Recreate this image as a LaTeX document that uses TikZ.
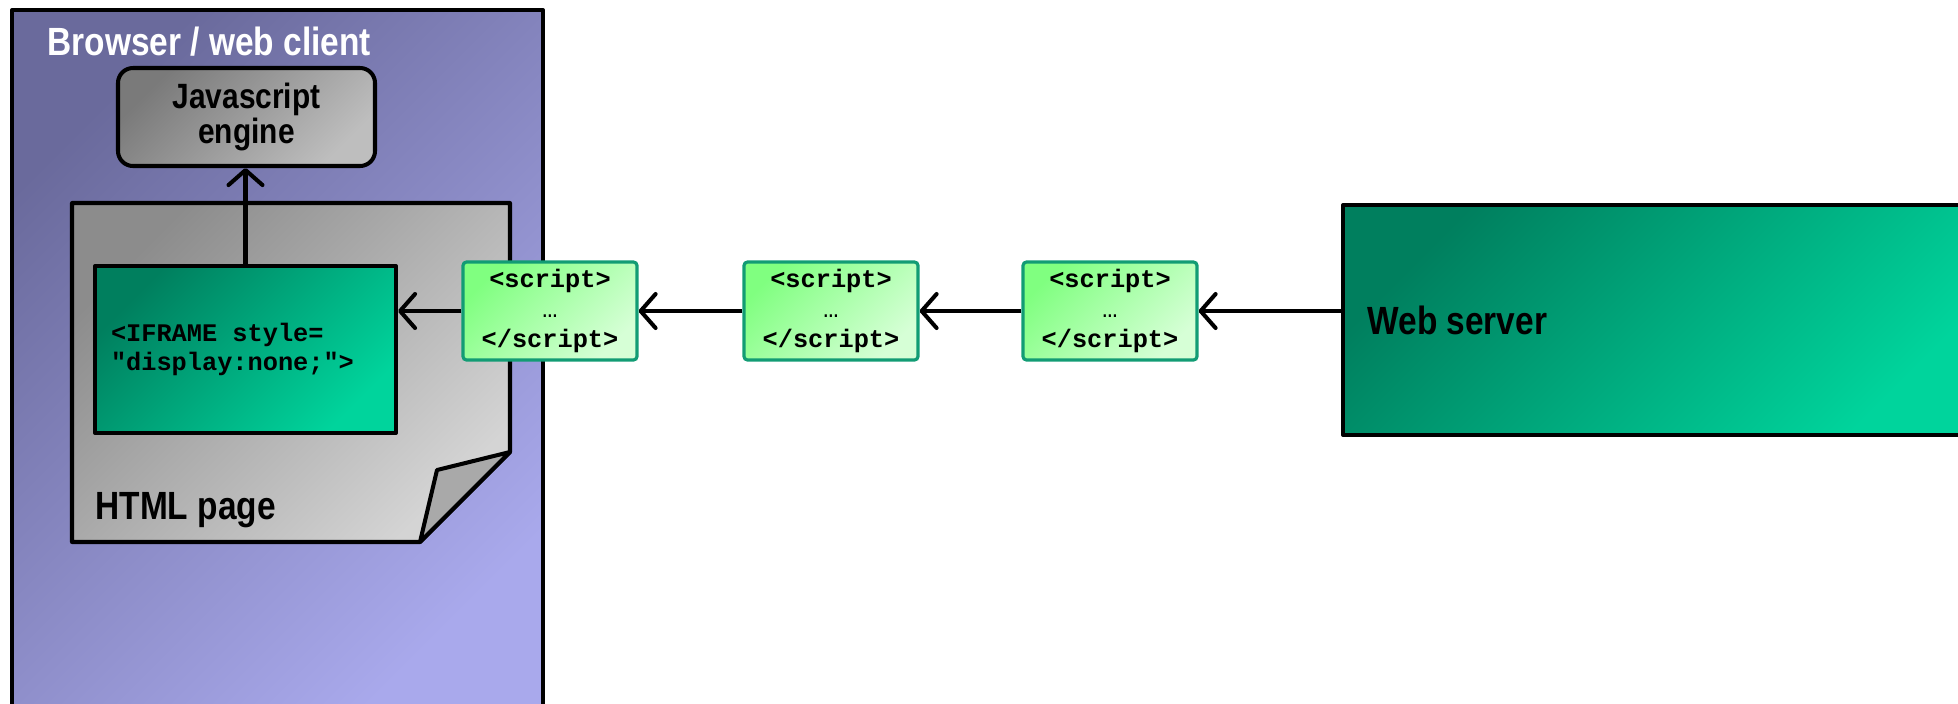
\documentclass[tikz,border=0pt]{standalone}
\usepackage{fontspec}
\setmainfont{Liberation Sans}
\setmonofont{Liberation Mono}
\newfontfamily\condsans[FakeStretch=0.85]{Liberation Sans}
\usetikzlibrary{arrows.meta,positioning}

\begin{document}
\begin{tikzpicture}[
    outline/.style={draw=black, line width=1.15pt, line join=round},
    shade45/.style 2 args={top color=#1, bottom color=#2, shading angle=45},
    heading/.style={font=\condsans\bfseries\fontsize{11.2}{13}\selectfont},
    codetext/.style={font=\ttfamily\bfseries\fontsize{7.2}{8}\selectfont},
    scriptbox/.style={draw=ScriptEdge, line width=0.9pt, rounded corners=1pt,
        shade45={ScriptDark}{ScriptLight}, minimum width=1.74cm,
        minimum height=0.98cm, inner sep=0pt, align=center,
        font=\ttfamily\bfseries\fontsize{7.2}{8.5}\selectfont},
    conn/.style={line width=1.15pt, -{Straight Barb[length=1.5mm,width=3.4mm,round]}}
]
    \definecolor{BrowserDark}{HTML}{6A6A9C}
    \definecolor{BrowserLight}{HTML}{A9A9EC}
    \definecolor{EngineDark}{HTML}{7A7A7A}
    \definecolor{EngineLight}{HTML}{BEBEBE}
    \definecolor{PageDark}{HTML}{8C8C8C}
    \definecolor{PageLight}{HTML}{D4D4D4}
    \definecolor{PageFold}{HTML}{A9A9A9}
    \definecolor{CoreDark}{HTML}{007F5E}
    \definecolor{CoreLight}{HTML}{00D49C}
    \definecolor{ScriptDark}{HTML}{80FF80}
    \definecolor{ScriptLight}{HTML}{D6FFD6}
    \definecolor{ScriptEdge}{HTML}{129C74}
    \useasboundingbox (0cm, 0cm) rectangle (19.58cm, 7.03cm);

    % browser
    \node[outline, shade45={BrowserDark}{BrowserLight}, minimum width=5.31cm,
        minimum height=7.05cm, anchor=north west] (browser) at (0.10cm, 6.95cm) {};
    \node[heading, text=white, anchor=west] (browsertitle) at (0.35cm, 6.61cm) {Browser / web client};

    % html page with folded corner
    \coordinate (P1) at (0.72cm, 5.00cm);
    \coordinate (P2) at (5.10cm, 5.00cm);
    \coordinate (P3) at (5.10cm, 2.51cm);
    \coordinate (P4) at (4.20cm, 1.61cm);
    \coordinate (P5) at (0.72cm, 1.61cm);
    \coordinate (F) at (4.37cm, 2.33cm);
    \draw[outline, shade45={PageDark}{PageLight}] (P1) -- (P2) -- (P3) -- (P4) -- (P5) -- cycle;
    \draw[outline, fill=PageFold] (P3) -- (F) -- (P4) -- cycle;
    \node[heading, anchor=west] (pagetitle) at (0.83cm, 1.93cm) {HTML page};

    \node[outline, rounded corners=0.15cm, shade45={EngineDark}{EngineLight},
        minimum width=2.57cm, minimum height=0.98cm, align=center,
        font=\condsans\bfseries\fontsize{10}{9.9}\selectfont] (engine) at (2.465cm, 5.86cm) {Javascript\\engine};

    \node[outline, codetext, shade45={CoreDark}{CoreLight}, minimum height=1.67cm,
        text width=2.69cm, inner sep=0.16cm, align=left] (iframe) at (2.455cm, 3.535cm)
        {<IFRAME\hspace{0.6em}style=\\"display:none;">};

    % scripts on their way
    \foreach \n/\x in {1/5.50, 2/8.31, 3/11.10}{
        \node[scriptbox] (s\n) at (\x cm, 3.92cm) {<script>\\{\mdseries …}\\</script>};
    }

    % server
    \node[outline, shade45={CoreDark}{CoreLight}, minimum width=6.34cm,
        minimum height=2.30cm, anchor=north west] (server) at (13.41cm, 5.00cm) {};
    \node[heading, anchor=west] (servertitle) at ([xshift=0.14cm]server.west) {Web server};

    \draw[conn] (iframe.north) -- (iframe.north |- engine.south);
    \draw[conn] (s1.west) -- (s1.west -| iframe.east);
    \foreach \i/\j in {2/1, 3/2}{
        \draw[conn] (s\i.west) -- (s\j.east);
    }
    \draw[conn] (s3.east -| server.west) -- (s3.east);
\end{tikzpicture}
\end{document}
